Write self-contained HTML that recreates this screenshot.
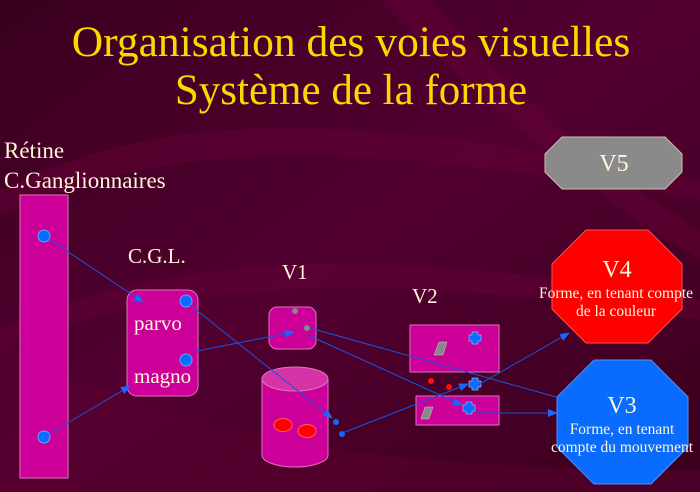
<!DOCTYPE html>
<html><head><meta charset="utf-8"><style>
html,body{margin:0;padding:0;background:#3a0020}
svg{display:block}
</style></head><body>
<svg width="700" height="492" viewBox="0 0 700 492" xmlns="http://www.w3.org/2000/svg">
<defs>
<linearGradient id="bg" x1="0" y1="0" x2="1" y2="1">
<stop offset="0" stop-color="#3a001e"/><stop offset="0.5" stop-color="#520030"/><stop offset="1" stop-color="#3a001c"/>
</linearGradient>
<marker id="ar" markerWidth="10" markerHeight="8" refX="9" refY="4" orient="auto" markerUnits="userSpaceOnUse">
<path d="M0,0 L10,4 L0,8 z" fill="#1a66ff"/></marker>
</defs>
<rect width="700" height="492" fill="url(#bg)"/>
<path d="M0,190 C150,120 300,100 700,180 L700,200 C300,130 150,150 0,215z" fill="#600033" opacity="0.6"/>
<path d="M0,330 C150,260 350,240 700,300 L700,320 C350,265 150,285 0,350z" fill="#600033" opacity="0.6"/>
<path d="M0,340 C150,420 300,470 700,470 L700,492 L0,492z" fill="#5a0030" opacity="0.5"/>
<path d="M380,0 C500,120 600,200 700,260 L700,230 C600,170 520,100 430,0z" fill="#650036" opacity="0.5"/>

<g font-family="Liberation Serif, serif" fill="#ffd700" text-anchor="middle">
<text x="351" y="56" font-size="43.5">Organisation des voies visuelles</text>
<text x="351" y="104" font-size="43">Système de la forme</text>
</g>
<g font-family="Liberation Serif, serif" fill="#fff5d8" font-size="21">
<text x="4" y="158" font-size="23">Rétine</text>
<text x="4" y="188" font-size="23">C.Ganglionnaires</text>
<text x="128" y="263">C.G.L.</text>
<text x="282" y="279">V1</text>
<text x="412" y="303">V2</text>
</g>

<rect x="20" y="195" width="48" height="283" fill="#cc0099" stroke="#e070c0" stroke-width="1"/>
<circle cx="44" cy="236" r="6" fill="#0a6cff" stroke="#6aa0ff"/>
<circle cx="44" cy="437" r="6" fill="#0a6cff" stroke="#6aa0ff"/>

<rect x="127" y="290" width="71" height="106" rx="10" fill="#cc0099" stroke="#e070c0"/>
<circle cx="186" cy="301" r="6" fill="#0a6cff" stroke="#6aa0ff"/>
<circle cx="186" cy="360" r="6" fill="#0a6cff" stroke="#6aa0ff"/>
<g font-family="Liberation Serif, serif" fill="#fff5d8" font-size="21">
<text x="134" y="330">parvo</text>
<text x="134" y="383">magno</text>
</g>

<rect x="269" y="307" width="47" height="42" rx="8" fill="#cc0099" stroke="#e070c0"/>
<circle cx="295" cy="311" r="3" fill="#888"/>
<circle cx="307" cy="328" r="3" fill="#888"/>

<path d="M262,379 L262,455 A33,12 0 0 0 328,455 L328,379z" fill="#cc0099" stroke="#e070c0"/>
<ellipse cx="295" cy="379" rx="33" ry="12" fill="#d633a6" stroke="#e070c0"/>
<ellipse cx="283" cy="425" rx="9" ry="6.5" fill="#ff0000" stroke="#ff6060"/>
<ellipse cx="307" cy="431" rx="9" ry="6.5" fill="#ff0000" stroke="#ff6060"/>
<circle cx="336" cy="422" r="3" fill="#0a6cff"/>
<circle cx="342" cy="434" r="3" fill="#0a6cff"/>

<rect x="410" y="325" width="89" height="47" fill="#cc0099" stroke="#e070c0"/>
<rect x="416" y="396" width="83" height="29" fill="#cc0099" stroke="#e070c0"/>
<polygon points="434,355 439,342 447,342 443,355" fill="#888" stroke="#ccc" stroke-width="0.5"/>
<polygon points="421,419 425,407 433,407 429,419" fill="#888" stroke="#ccc" stroke-width="0.5"/>
<circle cx="431" cy="381" r="3" fill="#ff1010"/>
<circle cx="449" cy="387" r="3" fill="#ff1010"/>
<g fill="#0a6cff" stroke="#8ab4ff" stroke-width="0.7">
<path d="M472,332h6v3h3v6h-3v3h-6v-3h-3v-6h3z"/>
<path d="M472,378h6v3h3v6h-3v3h-6v-3h-3v-6h3z"/>
<path d="M466,402h6v3h3v6h-3v3h-6v-3h-3v-6h3z"/>
</g>

<g stroke="#1a55dd" stroke-width="1" fill="none">
<line x1="49" y1="239" x2="143" y2="302" marker-end="url(#ar)"/>
<line x1="49" y1="434" x2="130" y2="386" marker-end="url(#ar)"/>
<line x1="190" y1="305" x2="332" y2="418" marker-end="url(#ar)"/>
<line x1="192" y1="352" x2="294" y2="332" marker-end="url(#ar)"/>
<line x1="310" y1="328" x2="556" y2="397"/>
<line x1="310" y1="336" x2="462" y2="405" marker-end="url(#ar)"/>
<line x1="345" y1="432" x2="468" y2="384" marker-end="url(#ar)"/>
<line x1="478" y1="385" x2="569" y2="333" marker-end="url(#ar)"/>
<line x1="476" y1="413" x2="557" y2="413" marker-end="url(#ar)"/>
</g>

<polygon points="562,137 665,137 682,154 682,172 665,189 562,189 545,172 545,154" fill="#8a8a8a" stroke="#c8c0b0"/>
<polygon points="586,230 648,230 682,264 682,309 648,343 586,343 552,309 552,264" fill="#ff0000" stroke="#ff5050"/>
<polygon points="594,360 651,360 688,397 688,447 651,484 594,484 557,447 557,397" fill="#0a6cff" stroke="#5090ff"/>
<g font-family="Liberation Serif, serif" fill="#fff5d8" text-anchor="middle">
<text x="614" y="171" font-size="24">V5</text>
<text x="617" y="277" font-size="24">V4</text>
<text x="616" y="298" font-size="15.5">Forme, en tenant compte</text>
<text x="616" y="316" font-size="15.5">de la couleur</text>
<text x="622" y="413" font-size="24">V3</text>
<text x="622" y="434" font-size="15.5">Forme, en tenant</text>
<text x="622" y="452" font-size="15.5">compte du mouvement</text>
</g>
</svg>
</body></html>
